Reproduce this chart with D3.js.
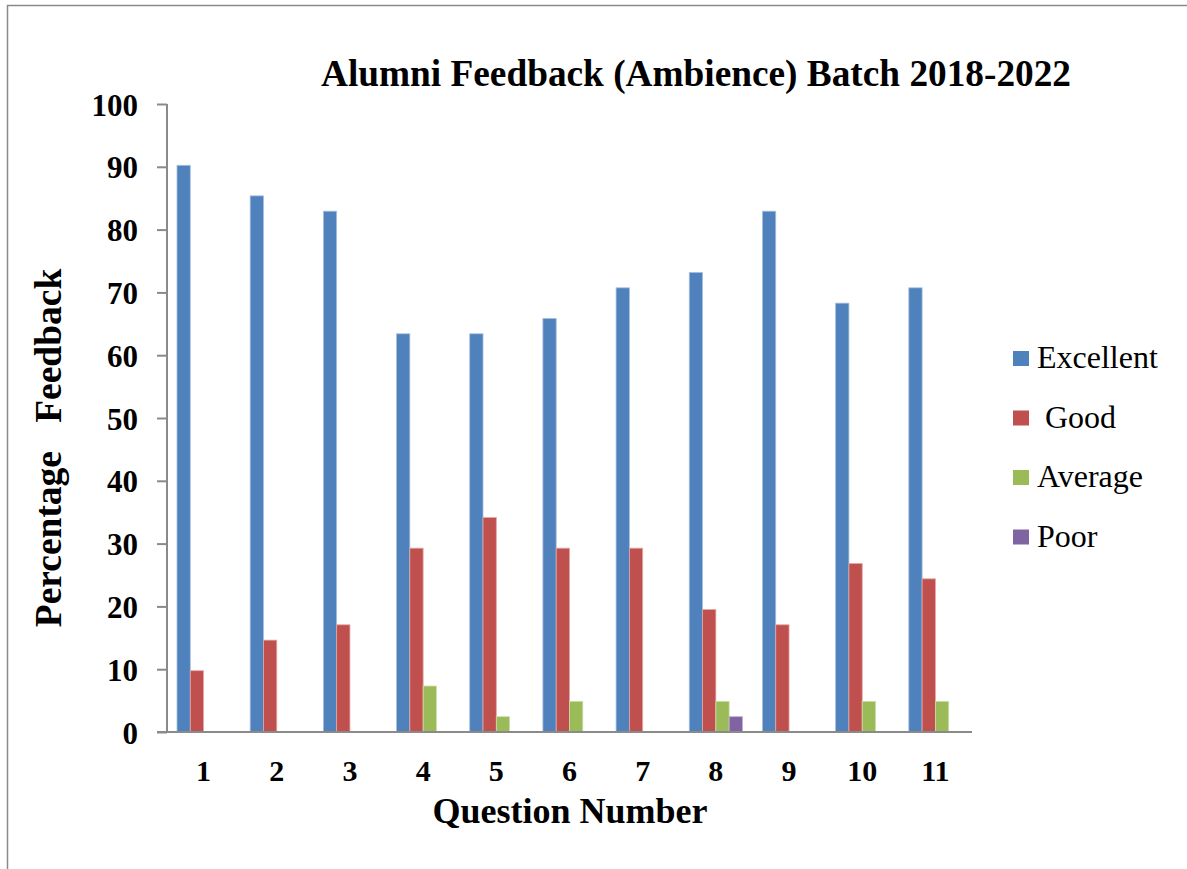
<!DOCTYPE html>
<html>
<head>
<meta charset="utf-8">
<script src="https://cdn.jsdelivr.net/npm/d3@7"></script>
<style>
html,body{margin:0;padding:0;background:#fff;}
svg{display:block;}
text{font-family:"Liberation Serif","Times New Roman",serif;fill:#000;}
</style>
</head>
<body>
<svg id="chart" width="1187" height="869"></svg>
<script>
const categories = ["1","2","3","4","5","6","7","8","9","10","11"];
const seriesNames = ["Excellent", " Good", "Average", "Poor"];
const excellent = [90.24, 85.37, 82.93, 63.41, 63.41, 65.85, 70.73, 73.17, 82.93, 68.29, 70.73];
const good      = [9.76, 14.63, 17.07, 29.27, 34.15, 29.27, 29.27, 19.51, 17.07, 26.83, 24.39];
const average   = [0, 0, 0, 7.32, 2.44, 4.88, 0, 4.88, 0, 4.88, 4.88];
const poor      = [0, 0, 0, 0, 0, 0, 0, 2.44, 0, 0, 0];
const yTicks = [0,10,20,30,40,50,60,70,80,90,100];
const colors = ["#4F81BD", "#C0504D", "#9BBB59", "#8064A2"];
const edgeColors = ["#A7C0DE", "#E0A8A6", "#CDDDAC", "#BFB1D0"];

const seriesValues = [excellent, good, average, poor];

const svg = d3.select("#chart");

// outer frame (only top/left visible in the reference)
svg.append("rect").attr("x", 7.5).attr("y", 5.5).attr("width", 1200).attr("height", 900)
  .attr("fill", "none").attr("stroke", "#8a8a8a").attr("stroke-width", 1.5);

const plotLeft = 167, plotRight = 972, plotTop = 104, plotBottom = 732;

const x0 = d3.scaleBand().domain(categories).range([plotLeft, plotRight]).paddingInner(0).paddingOuter(0);
const innerPad = x0.bandwidth() * (20 / 73.2) / 2;
const x1 = d3.scaleBand().domain(d3.range(seriesNames.length))
  .range([innerPad, x0.bandwidth() - innerPad]).padding(0);
const y = d3.scaleLinear().domain([0, 100]).range([plotBottom, plotTop]);

// bars
const groups = svg.append("g").selectAll("g").data(categories).join("g")
  .attr("transform", d => `translate(${x0(d)},0)`);
groups.selectAll("rect")
  .data((c, i) => seriesValues.map((vals, s) => ({s, v: vals[i]})).filter(d => d.v > 0))
  .join("rect")
  .attr("x", d => x1(d.s))
  .attr("y", d => y(d.v))
  .attr("width", x1.bandwidth())
  .attr("height", d => y(0) - y(d.v))
  .attr("fill", d => colors[d.s])
  .attr("stroke", d => edgeColors[d.s])
  .attr("stroke-width", 0.8);

// y axis
const yAxis = d3.axisLeft(y).tickValues(yTicks).tickSize(10).tickPadding(19).tickFormat(d3.format("d"));
const yg = svg.append("g").attr("transform", `translate(${plotLeft},0)`).call(yAxis);
yg.select(".domain").attr("stroke", "#8a8a8a").attr("stroke-width", 2).attr("d", `M0,${plotTop}V${plotBottom}`);
yg.selectAll(".tick line").attr("stroke", "#8a8a8a").attr("stroke-width", 2);
yg.selectAll(".tick text").attr("font-family", "Liberation Serif").attr("font-weight", "bold")
  .attr("font-size", 31).attr("fill", "#000").attr("dy", "0.36em");

// x axis
const xAxis = d3.axisBottom(x0).tickSize(0).tickPadding(28);
const xg = svg.append("g").attr("transform", `translate(0,${plotBottom})`).call(xAxis);
xg.select(".domain").attr("stroke", "#8a8a8a").attr("stroke-width", 2).attr("d", `M${plotLeft-10},0H${plotRight}`);
xg.selectAll(".tick text").attr("font-family", "Liberation Serif").attr("font-weight", "bold")
  .attr("font-size", 30).attr("fill", "#000").attr("dy", "0.71em");

// title
svg.append("text").attr("x", 696).attr("y", 86).attr("text-anchor", "middle")
  .attr("font-weight", "bold").attr("font-size", 37.3)
  .text("Alumni Feedback (Ambience) Batch 2018-2022");

// x axis title
svg.append("text").attr("x", 570).attr("y", 823).attr("text-anchor", "middle")
  .attr("font-weight", "bold").attr("font-size", 36)
  .text("Question Number");

// y axis title
svg.append("text").attr("transform", "translate(61,448) rotate(-90)")
  .attr("text-anchor", "middle").attr("font-weight", "bold").attr("font-size", 37.5)
  .attr("xml:space", "preserve").style("white-space", "pre")
  .text("Percentage   Feedback");

// legend
const legend = svg.append("g").selectAll("g").data(seriesNames).join("g")
  .attr("transform", (d, i) => `translate(1013,${351 + i * 59.5})`);
legend.append("rect").attr("width", 16).attr("height", 15).attr("fill", (d, i) => colors[i]);
legend.append("text").attr("x", 24).attr("y", 17).attr("font-size", 32)
  .style("white-space", "pre").text(d => d);
</script>
</body>
</html>
